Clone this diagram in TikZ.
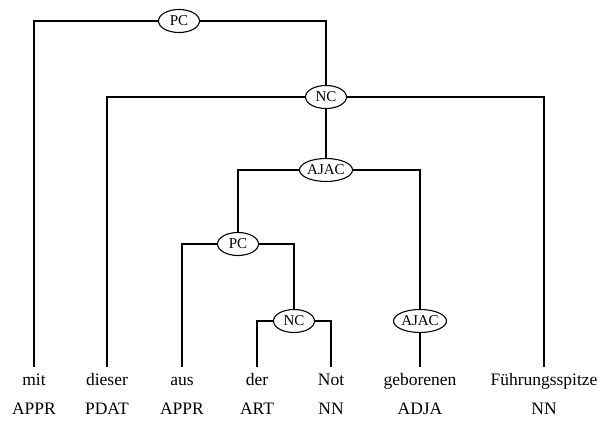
\documentclass[tikz,border=0pt]{standalone}
\usepackage{fontspec}
\setmainfont{Liberation Serif}
\usepackage{tikz}
\usetikzlibrary{shapes.geometric}

\begin{document}
\begin{tikzpicture}[x=1pt, y=-1pt, line width=1.1pt,
  cat/.style={draw, ellipse, inner xsep=0pt, inner ysep=1pt, minimum width=41pt, minimum height=23pt, font=\fontsize{15}{17}\selectfont},
  word/.style={anchor=base, inner sep=3pt, text height=14pt, text depth=4pt, font=\fontsize{17.5}{20}\selectfont},
  tag/.style={anchor=base, inner sep=3pt, font=\fontsize{17.5}{20}\selectfont}]
\useasboundingbox (0,0) rectangle (600,430);
% words and tags
\foreach \n/\w/\t/\x in {w1/mit/APPR/34, w2/dieser/PDAT/107, w3/aus/APPR/182, w4/der/ART/257, w5/Not/NN/331, w6/geborenen/ADJA/420, w7/Führungsspitze/NN/544} {
  \node[word] (\n) at (\x,385) {\w};
  \node[tag] (t\n) at (\x,414) {\t};
}
% categories
\node[cat] (PCa) at (179,21) {PC};
\node[cat] (NCa) at (326,97) {NC};
\node[cat] (AJACa) at (326,170) {AJAC};
\node[cat] (PCb) at (238,244) {PC};
\node[cat] (NCb) at (294,321) {NC};
\node[cat] (AJACb) at (420,321) {AJAC};
% edges
\draw (PCa) -| (w1);
\draw (PCa) -| (NCa);
\draw (NCa) -| (w2);
\draw (NCa) -| (w7);
\draw (NCa) -- (AJACa);
\draw (AJACa) -| (PCb);
\draw (AJACa) -| (AJACb);
\draw (PCb) -| (w3);
\draw (PCb) -| (NCb);
\draw (NCb) -| (w4);
\draw (NCb) -| (w5);
\draw (AJACb) -- (w6);
\end{tikzpicture}
\end{document}
